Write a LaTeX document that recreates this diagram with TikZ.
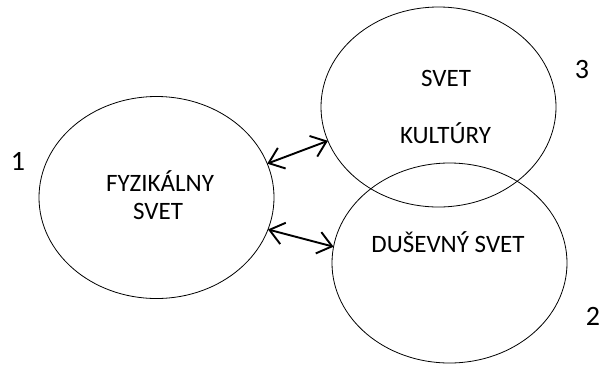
\documentclass[tikz,border=0pt]{standalone}
\usepackage{fontspec}
\setmainfont{Carlito}
\usetikzlibrary{shapes.geometric,arrows.meta}
\begin{document}
\begin{tikzpicture}[x=1pt,y=-1pt,
  world/.style={ellipse,draw,line width=0.8pt,inner sep=0pt,outer sep=0pt,
    minimum width=235pt,minimum height=#1},
  world/.default=200pt,
  label/.style={font=\fontsize{25}{30}\selectfont,anchor=base,inner sep=0pt},
  number/.style={font=\fontsize{28}{32}\selectfont,anchor=base,inner sep=0pt},
  link/.style={line width=1.9pt,{Straight Barb[length=14pt,width=22pt]}-{Straight Barb[length=14pt,width=22pt]}}]
  \useasboundingbox (0,0) rectangle (604,365);
  % the three worlds
  \node[world=202pt] (e1) at (156.5,197.5) {};
  \node[world] (e3) at (438.5,107) {};
  \node[world] (e2) at (449.5,263) {};
  % texts inside the worlds
  \node[label] (t1a) at (160,191) {FYZIKÁLNY};
  \node[label] (t1b) at (158,219) {SVET};
  \node[label] (t3a) at (446,86) {SVET};
  \node[label] (t3b) at (445.5,143) {KULTÚRY};
  \node[label] (t2) at (448,252) {DUŠEVNÝ SVET};
  % numbers
  \node[number] (n1) at (18,170) {1};
  \node[number] (n3) at (582,78) {3};
  \node[number] (n2) at (593,325) {2};
  % interactions between the worlds
  \draw[link] (e1.17.6) -- (e3.197.9);
  \draw[link] (e1.344.3) -- (e2.172.7);
\end{tikzpicture}
\end{document}
